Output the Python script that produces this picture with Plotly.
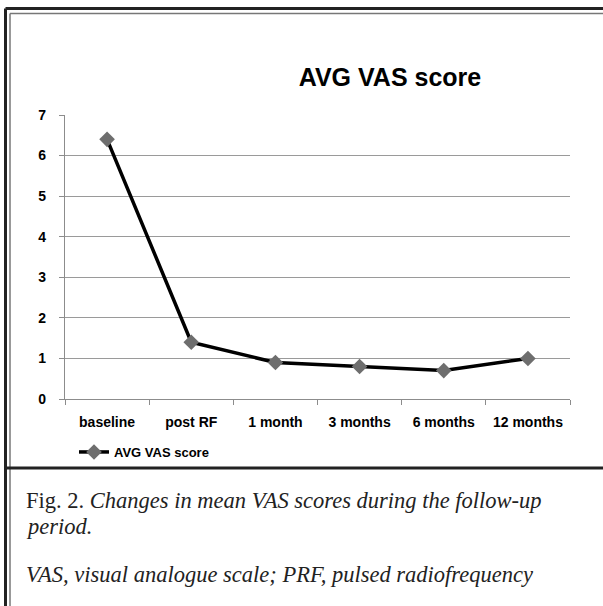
import plotly.graph_objects as go

# ---- data ----
categories = ["baseline", "post RF", "1 month", "3 months", "6 months", "12 months"]
vas_scores = [6.4, 1.4, 0.9, 0.8, 0.7, 1.0]
y_ticks = [0, 1, 2, 3, 4, 5, 6, 7]
series_name = "AVG VAS score"
chart_title = "AVG VAS score"
caption_1 = "Fig. 2. <i>Changes in mean VAS scores during the follow-up</i>"
caption_2 = "<i>period.</i>"
caption_3 = "<i>VAS, visual analogue scale; PRF, pulsed radiofrequency</i>"

W, H = 603, 606
L, R, T, B = 65, 570, 115, 399  # plot area in pixels


def px(x):
    return (x - L) / (R - L)


def py(y):
    return (B - y) / (B - T)


fig = go.Figure()
fig.add_trace(go.Scatter(
    x=categories, y=vas_scores, name=series_name, mode="lines+markers",
    line=dict(color="black", width=3.5),
    marker=dict(symbol="diamond", size=12, color="#6e6e6e"),
))

sans = "Liberation Sans, Arial, sans-serif"
serif = "Liberation Serif, Times New Roman, serif"

fig.update_layout(
    width=W, height=H,
    margin=dict(l=L, r=W - R, t=T, b=H - B),
    paper_bgcolor="white", plot_bgcolor="white",
    showlegend=True,
    legend=dict(orientation="h", x=px(74), y=py(452), xanchor="left", yanchor="middle",
                font=dict(family=sans, size=13, color="black", weight="bold"),
                bgcolor="rgba(0,0,0,0)", itemwidth=30),
    title=dict(text=chart_title, x=px(390), xref="paper", xanchor="center",
               y=1 - 77 / H, yanchor="middle",
               font=dict(family=sans, size=25, color="black", weight="bold")),
)

fig.update_xaxes(
    type="category", range=[-0.5, 5.5], showgrid=False, showline=True,
    linecolor="#8c8c8c", linewidth=1.2, ticks="outside", tickson="boundaries",
    ticklen=5, tickcolor="#8c8c8c", tickwidth=1.2,
    tickfont=dict(family=sans, size=14, color="black", weight="bold"),
    ticklabelstandoff=10,
)
fig.update_yaxes(
    range=[0, 7], tickvals=y_ticks, showgrid=True, gridcolor="#9a9a9a", gridwidth=1.2,
    zeroline=False, showline=True, linecolor="#8c8c8c", linewidth=1.2,
    ticks="outside", ticklen=5, tickcolor="#8c8c8c", tickwidth=1.2,
    tickfont=dict(family=sans, size=14, color="black", weight="bold"),
    ticklabelstandoff=10,
)

# frame (outer dark double border) and divider
shapes = []
shapes.append(dict(type="line", xref="paper", yref="paper",
                   x0=px(5.5), x1=px(W + 5), y0=py(8.5), y1=py(8.5),
                   line=dict(color="#222222", width=3)))
shapes.append(dict(type="line", xref="paper", yref="paper",
                   x0=px(5.5), x1=px(5.5), y0=py(8.5), y1=py(H + 5),
                   line=dict(color="#222222", width=3)))
shapes.append(dict(type="line", xref="paper", yref="paper",
                   x0=px(10), x1=px(W + 5), y0=py(13.5), y1=py(13.5),
                   line=dict(color="#777777", width=1.5)))
shapes.append(dict(type="line", xref="paper", yref="paper",
                   x0=px(10), x1=px(10), y0=py(13.5), y1=py(H + 5),
                   line=dict(color="#777777", width=1.5)))
shapes.append(dict(type="line", xref="paper", yref="paper",
                   x0=px(7), x1=px(W + 5), y0=py(468), y1=py(468),
                   line=dict(color="#222222", width=3)))
fig.update_layout(shapes=shapes)

cap_font = dict(family=serif, size=22.5, color="#222222")
for txt, ycen in [(caption_1, 500), (caption_2, 526), (caption_3, 574)]:
    fig.add_annotation(text=txt, xref="paper", yref="paper", x=px(24), y=py(ycen),
                       xanchor="left", yanchor="middle", showarrow=False, font=cap_font)

fig.write_html("out.html", config={"displayModeBar": False},
               post_script="document.body.style.margin='0';document.body.style.overflow='hidden';")
